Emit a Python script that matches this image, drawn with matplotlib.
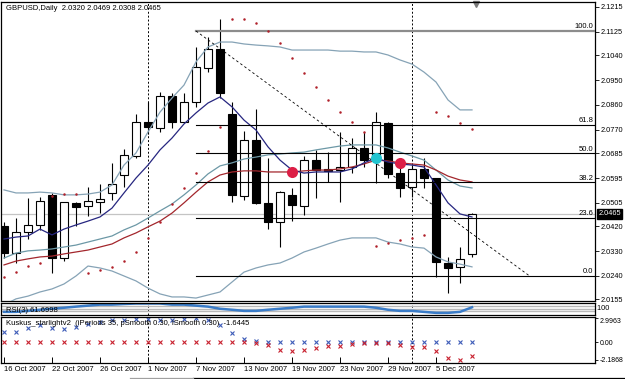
import numpy as np
import matplotlib
matplotlib.use("Agg")
import matplotlib.pyplot as plt
import matplotlib.transforms as mtransforms
from matplotlib.lines import Line2D

plt.rcParams['font.family'] = ['Liberation Sans', 'DejaVu Sans']
plt.rcParams['font.size'] = 5.5

# GBPUSD daily bars, 16 Oct 2007 .. 10 Dec 2007
opens = [2.0421, 2.0323, 2.0399, 2.0425, 2.0534, 2.0305, 2.0505, 2.0494, 2.0508, 2.0541,
         2.0606, 2.0675, 2.0798, 2.0776, 2.0892, 2.0798, 2.0871, 2.0994, 2.1063, 2.0827,
         2.0530, 2.0733, 2.0505, 2.0436, 2.0534, 2.0494, 2.0660, 2.0628, 2.0624, 2.0635,
         2.0704, 2.0668, 2.0795, 2.0613, 2.0563, 2.0628, 2.0595, 2.0287, 2.0273, 2.0320]
highs = [2.0436, 2.0450, 2.0523, 2.0526, 2.0541, 2.0508, 2.0508, 2.0563, 2.0573, 2.0650,
         2.0700, 2.0827, 2.0871, 2.0907, 2.0903, 2.0903, 2.1070, 2.1106, 2.1172, 2.0871,
         2.0766, 2.0845, 2.0668, 2.0548, 2.0559, 2.0675, 2.0697, 2.0689, 2.0762, 2.0740,
         2.0762, 2.0834, 2.0798, 2.0650, 2.0642, 2.0668, 2.0595, 2.0309, 2.0345, 2.0469]
lows = [2.0305, 2.0287, 2.0374, 2.0407, 2.0251, 2.0294, 2.0421, 2.0457, 2.0468, 2.0515,
        2.0563, 2.0668, 2.0755, 2.0762, 2.0776, 2.0795, 2.0853, 2.0979, 2.0885, 2.0508,
        2.0515, 2.0501, 2.0410, 2.0345, 2.0439, 2.0461, 2.0523, 2.0581, 2.0508, 2.0613,
        2.0635, 2.0577, 2.0595, 2.0526, 2.0526, 2.0559, 2.0236, 2.0178, 2.0215, 2.0308]
closes = [2.0323, 2.0399, 2.0425, 2.0512, 2.0305, 2.0508, 2.0490, 2.0512, 2.0519, 2.0573,
          2.0679, 2.0798, 2.0780, 2.0892, 2.0798, 2.0871, 2.0998, 2.1063, 2.0903, 2.0534,
          2.0733, 2.0505, 2.0436, 2.0544, 2.0497, 2.0660, 2.0624, 2.0621, 2.0635, 2.0704,
          2.0660, 2.0798, 2.0610, 2.0559, 2.0628, 2.0595, 2.0291, 2.0269, 2.0301, 2.0465]

# indicators
bb_up = [2.0552, 2.0541, 2.0541, 2.0544, 2.0541, 2.0534, 2.0534, 2.0537, 2.0544, 2.0570,
         2.0642, 2.0686, 2.0762, 2.0834, 2.0885, 2.0932, 2.1016, 2.1070, 2.1088, 2.1088,
         2.1081, 2.1077, 2.1074, 2.1070, 2.1059, 2.1059, 2.1059, 2.1059, 2.1055, 2.1055,
         2.1052, 2.1052, 2.1041, 2.1023, 2.1008, 2.0979, 2.0943, 2.0878, 2.0842, 2.0842]
bb_lo = [2.0135, 2.0157, 2.0167, 2.0182, 2.0193, 2.0211, 2.0240, 2.0276, 2.0269, 2.0258,
         2.0240, 2.0222, 2.0196, 2.0175, 2.0164, 2.0164, 2.0160, 2.0171, 2.0182, 2.0218,
         2.0254, 2.0269, 2.0280, 2.0287, 2.0305, 2.0327, 2.0341, 2.0356, 2.0370, 2.0378,
         2.0378, 2.0378, 2.0363, 2.0356, 2.0345, 2.0341, 2.0309, 2.0291, 2.0283, 2.0273]
ma_slow = [2.0305, 2.0323, 2.0331, 2.0334, 2.0338, 2.0345, 2.0352, 2.0363, 2.0374, 2.0385,
           2.0407, 2.0425, 2.0450, 2.0476, 2.0501, 2.0534, 2.0570, 2.0610, 2.0639, 2.0650,
           2.0664, 2.0671, 2.0679, 2.0682, 2.0686, 2.0689, 2.0697, 2.0704, 2.0711, 2.0715,
           2.0715, 2.0715, 2.0704, 2.0689, 2.0675, 2.0660, 2.0624, 2.0588, 2.0566, 2.0559]
ma_red = [2.0280, 2.0294, 2.0302, 2.0309, 2.0312, 2.0320, 2.0327, 2.0334, 2.0345, 2.0356,
          2.0378, 2.0396, 2.0418, 2.0439, 2.0468, 2.0505, 2.0544, 2.0581, 2.0606, 2.0617,
          2.0621, 2.0621, 2.0617, 2.0617, 2.0617, 2.0621, 2.0624, 2.0624, 2.0628, 2.0635,
          2.0646, 2.0660, 2.0657, 2.0650, 2.0646, 2.0642, 2.0624, 2.0602, 2.0588, 2.0581]
ma_fast = [2.0374, 2.0381, 2.0385, 2.0410, 2.0389, 2.0410, 2.0425, 2.0439, 2.0454, 2.0486,
           2.0541, 2.0595, 2.0642, 2.0697, 2.0740, 2.0791, 2.0831, 2.0867, 2.0889, 2.0853,
           2.0805, 2.0769, 2.0708, 2.0660, 2.0624, 2.0613, 2.0617, 2.0617, 2.0617, 2.0628,
           2.0650, 2.0668, 2.0653, 2.0646, 2.0642, 2.0635, 2.0570, 2.0505, 2.0465, 2.0454]
sar = [2.0236, 2.0254, 2.0276, 2.0287, 2.0530, 2.0537, 2.0537, 2.0251, 2.0262, 2.0273,
       2.0294, 2.0327, 2.0378, 2.0436, 2.0501, 2.0559, 2.0613, 2.0693, 2.0780, 2.1172,
       2.1172, 2.1157, 2.1128, 2.1085, 2.1030, 2.0976, 2.0925, 2.0878, 2.0834, 2.0798,
       2.0762, 2.0349, 2.0359, 2.0370, 2.0378, 2.0389, 2.0834, 2.0820, 2.0795, 2.0773]

# signal dots
sig_red_bar = [24, 33]
sig_red_price = [2.0617, 2.0650]
sig_cyan_bar = [31]
sig_cyan_price = [2.0668]

# fibonacci
fib_levels = [0.0, 23.6, 38.2, 50.0, 61.8, 100.0]
fib_low = 2.0240
fib_high = 2.1128
fib_start = 16
fib_end = 43.8

rsi = [25, 25, 33, 42, 50, 58, 67, 75, 83, 83, 88, 92, 92, 92, 83, 83, 75, 67, 50, 42,
       33, 33, 42, 50, 58, 67, 67, 67, 67, 67, 67, 58, 42, 33, 33, 25, 17, 17, 25, 61.7]
kus_blue = [1.22, 1.22, 1.71, 2.07, 1.71, 1.59, 1.83, 2.2, 2.5, 2.7, 2.8, 2.85, 2.85, 2.7,
            2.7, 2.9, 2.9963, 2.8, 2.1, 1.1, 0.37, 0.12] + [0.0] * 18
kus_red = [0.0] * 21 + [-0.12, -0.37, -0.98, -1.1, -0.98, -0.73, -0.49, -0.49, -0.24, -0.12,
                        -0.12, -0.12, -0.37, -0.61, -0.61, -1.1, -1.95, -2.1868, -1.6445]

price_ticks = [2.1215, 2.1125, 2.1040, 2.0950, 2.0860, 2.0770, 2.0685, 2.0595, 2.0505,
               2.0420, 2.0330, 2.0240, 2.0155]
date_labels = ['16 Oct 2007', '22 Oct 2007', '26 Oct 2007', '1 Nov 2007', '7 Nov 2007',
               '13 Nov 2007', '19 Nov 2007', '23 Nov 2007', '29 Nov 2007', '5 Dec 2007']
date_bars = [0, 4, 8, 12, 16, 20, 24, 28, 32, 36]
separators = [12, 34]

W, H = 625, 379
fig = plt.figure(figsize=(W / 100, H / 100), dpi=100)


def px_axes(x0, y0, x1, y1):
    return fig.add_axes([x0 / W, 1 - y1 / H, (x1 - x0) / W, (y1 - y0) / H])


ax = px_axes(1, 2, 595, 301)
ax_rsi = px_axes(1, 302.5, 595, 315)
ax_k = px_axes(1, 316.5, 595, 363)

x = np.arange(len(closes))
o, h, l, c = map(np.array, (opens, highs, lows, closes))
xlim = (-0.25, 49.25)

for a in (ax, ax_rsi, ax_k):
    a.set_xlim(*xlim)
    for s in a.spines.values():
        s.set_linewidth(0.9)
        s.set_color('black')
    for b in separators:
        a.axvline(b, color='black', ls=(0, (2, 2)), lw=0.7, zorder=1)

# candles
up = c >= o
ax.vlines(x, l, h, color='black', lw=0.8, zorder=2)
ax.bar(x[up], (c - o)[up], bottom=o[up], width=0.62, color='white', edgecolor='black', lw=0.8, zorder=3)
ax.bar(x[~up], (o - c)[~up], bottom=c[~up], width=0.62, color='black', edgecolor='black', lw=0.8, zorder=3)

# bid line
ax.axhline(closes[-1], color='#c4c4c4', lw=0.9, zorder=1)

# indicators
ax.plot(x, bb_up, color='#86a3b6', lw=0.9, zorder=4)
ax.plot(x, bb_lo, color='#86a3b6', lw=0.9, zorder=4)
ax.plot(x, ma_slow, color='#6c98a6', lw=0.9, zorder=4)
ax.plot(x, ma_red, color='#a3262c', lw=0.9, zorder=4)
ax.plot(x, ma_fast, color='#262680', lw=0.9, zorder=4)
ax.plot(x, sar, ls='none', marker='o', ms=1.8, color='#b0202a', mec='none', zorder=5)

# fibonacci levels
for lev in fib_levels:
    p = fib_low + (fib_high - fib_low) * lev / 100
    if lev == 100.0:
        ax.plot([fib_start, xlim[1]], [p, p], color='#8c8c8c', lw=1.6, zorder=4)
    else:
        ax.plot([fib_start, xlim[1]], [p, p], color='black', lw=0.8, zorder=4)
    ax.text(xlim[1] - 0.12, p + 0.0003, f'{lev:.1f}', ha='right', va='bottom', fontsize=5.5)
ax.plot([fib_start, fib_end], [fib_high, fib_low], color='black', ls=(0, (3, 3)), lw=0.6, zorder=4)

ax.plot(sig_red_bar, sig_red_price, ls='none', marker='o', ms=8, color='#dc1e46', mec='none', zorder=6)
ax.plot(sig_cyan_bar, sig_cyan_price, ls='none', marker='o', ms=8, color='#22c4d0', mec='none', zorder=6)

# chart shift marker
trans = mtransforms.blended_transform_factory(ax.transData, ax.transAxes)
ax.plot(len(closes) - 1 + 0.35, 0.993, marker='v', ms=4.5, color='#7a7a7a', transform=trans, clip_on=False)

ax.set_ylim(2.01493, 2.12331)
ax.set_xticks([])
ax.yaxis.tick_right()
ax.set_yticks(price_ticks)
ax.set_yticklabels([f'{p:.4f}' for p in price_ticks])
ax.tick_params(axis='y', direction='out', length=3, width=0.6, pad=1.2, labelsize=5.3)
ax.annotate(f'{closes[-1]:.4f}', xy=(1, closes[-1]), xycoords=('axes fraction', 'data'),
            xytext=(2.5, 0), textcoords='offset points', ha='left', va='center', color='white',
            fontsize=5.3, bbox=dict(boxstyle='square,pad=0.15', fc='black', ec='black'))

fig.text(6 / W, 1 - 8 / H, 'GBPUSD,Daily  2.0320 2.0469 2.0308 2.0465', ha='left', va='center', fontsize=5.5)

# RSI strip
for lev in (70, 50, 30):
    ax_rsi.axhline(lev, color='#b8b8b8', lw=1.0)
ax_rsi.plot(x, rsi, color='#3a7cc8', lw=1.8)
ax_rsi.set_ylim(0, 100)
ax_rsi.set_xticks([])
ax_rsi.set_yticks([])
ax_rsi.text(5 / 594 * (xlim[1] - xlim[0]) + xlim[0], 40, 'RSI(3) 61.6998', ha='left', va='center', fontsize=5.5)
ax_rsi.text(1.0, 0.5, ' 100', transform=ax_rsi.transAxes, ha='left', va='center', fontsize=5.3)

# Kuskus
ax_k.plot(x, kus_blue, ls='none', marker='x', ms=2.6, mew=0.8, color='#3d5cb8')
ax_k.plot(x, kus_red, ls='none', marker='x', ms=2.6, mew=0.8, color='#c8202e')
ax_k.set_ylim(-2.56, 3.17)
ax_k.text(xlim[0] + 0.45, 2.35, 'Kuskus_starlightv2  (iPeriods 35, pSmooth 0.30, iSmooth 0.30)  -1.6445',
          ha='left', va='center', fontsize=5.5)
ax_k.yaxis.tick_right()
ax_k.set_yticks([2.9963, 0.0, -2.1868])
ax_k.set_yticklabels(['2.9963', '0.00', '-2.1868'])
ax_k.tick_params(axis='y', direction='out', length=2.5, width=0.6, pad=1.0, labelsize=5.0)
ax_k.get_yticklabels()[0].set_va('top')
ax_k.set_xticks(date_bars)
ax_k.set_xticklabels(date_labels, ha='left')
ax_k.tick_params(axis='x', direction='in', length=4, width=0.7, pad=2.5, labelsize=5.5)

# window bottom edge
fig.add_artist(Line2D([193 / W, 1], [1 / H, 1 / H], color='black', lw=0.9))
fig.add_artist(Line2D([130 / W, 193 / W], [1 / H, 1 / H], color='#a0a0a0', lw=0.9))

fig.savefig('out.png', dpi=100)
